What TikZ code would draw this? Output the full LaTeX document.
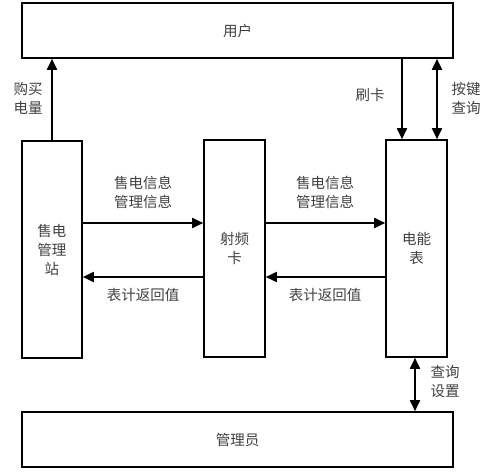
\documentclass[tikz,border=0pt]{standalone}
\usepackage{fontspec}
\setmainfont{Noto Sans CJK SC}
\usetikzlibrary{arrows.meta}
\begin{document}
\begin{tikzpicture}[x=1pt,y=-1pt,
  box/.style={draw,line width=1.6pt,inner sep=0pt},
  arr/.style={line width=1.8pt,-{Triangle[length=11pt,width=10pt]}},
  darr/.style={line width=1.8pt,{Triangle[length=11pt,width=10pt]}-{Triangle[length=11pt,width=10pt]}},
  lbl/.style={font=\fontsize{14.5}{19}\selectfont,text=black!75,align=center,inner sep=0pt}]
\useasboundingbox (0,0) rectangle (496,474);
\node[box,minimum width=431pt,minimum height=55pt] (user) at (237.5,30.5) {};
\node[lbl] at (user.center) {用户};
\node[box,minimum width=60pt,minimum height=217pt] (station) at (52,249.5) {};
\node[lbl] at (station.center) {售电\\管理\\站};
\node[box,minimum width=61pt,minimum height=217pt] (card) at (234.5,248.5) {};
\node[lbl] at (card.center) {射频\\卡};
\node[box,minimum width=61pt,minimum height=217pt] (meter) at (416.5,248.5) {};
\node[lbl] at (meter.center) {电能\\表};
\node[box,minimum width=431pt,minimum height=55pt] (admin) at (237.5,439.5) {};
\node[lbl] at (admin.center) {管理员};
% vertical connectors
\draw[arr] (station.north) -- (user.south -| station.north);
\node[lbl] at (28,98) {购买\\电量};
\draw[arr] (user.south -| 402,0) -- (meter.north -| 402,0);
\node[lbl] at (370,95) {刷卡};
\draw[darr] (user.south -| 437,0) -- (meter.north -| 437,0);
\node[lbl] at (466,98) {按键\\查询};
\draw[darr] (meter.south -| 415,0) -- (admin.north -| 415,0);
\node[lbl] at (445,382) {查询\\设置};
% horizontal connectors
\draw[arr] (station.east |- 0,223) -- (card.west |- 0,223);
\node[lbl] at (143,192) {售电信息\\管理信息};
\draw[arr] (card.west |- 0,277) -- (station.east |- 0,277);
\node[lbl] at (143,295) {表计返回值};
\draw[arr] (card.east |- 0,223) -- (meter.west |- 0,223);
\node[lbl] at (325,192) {售电信息\\管理信息};
\draw[arr] (meter.west |- 0,277) -- (card.east |- 0,277);
\node[lbl] at (325,295) {表计返回值};
\end{tikzpicture}
\end{document}
